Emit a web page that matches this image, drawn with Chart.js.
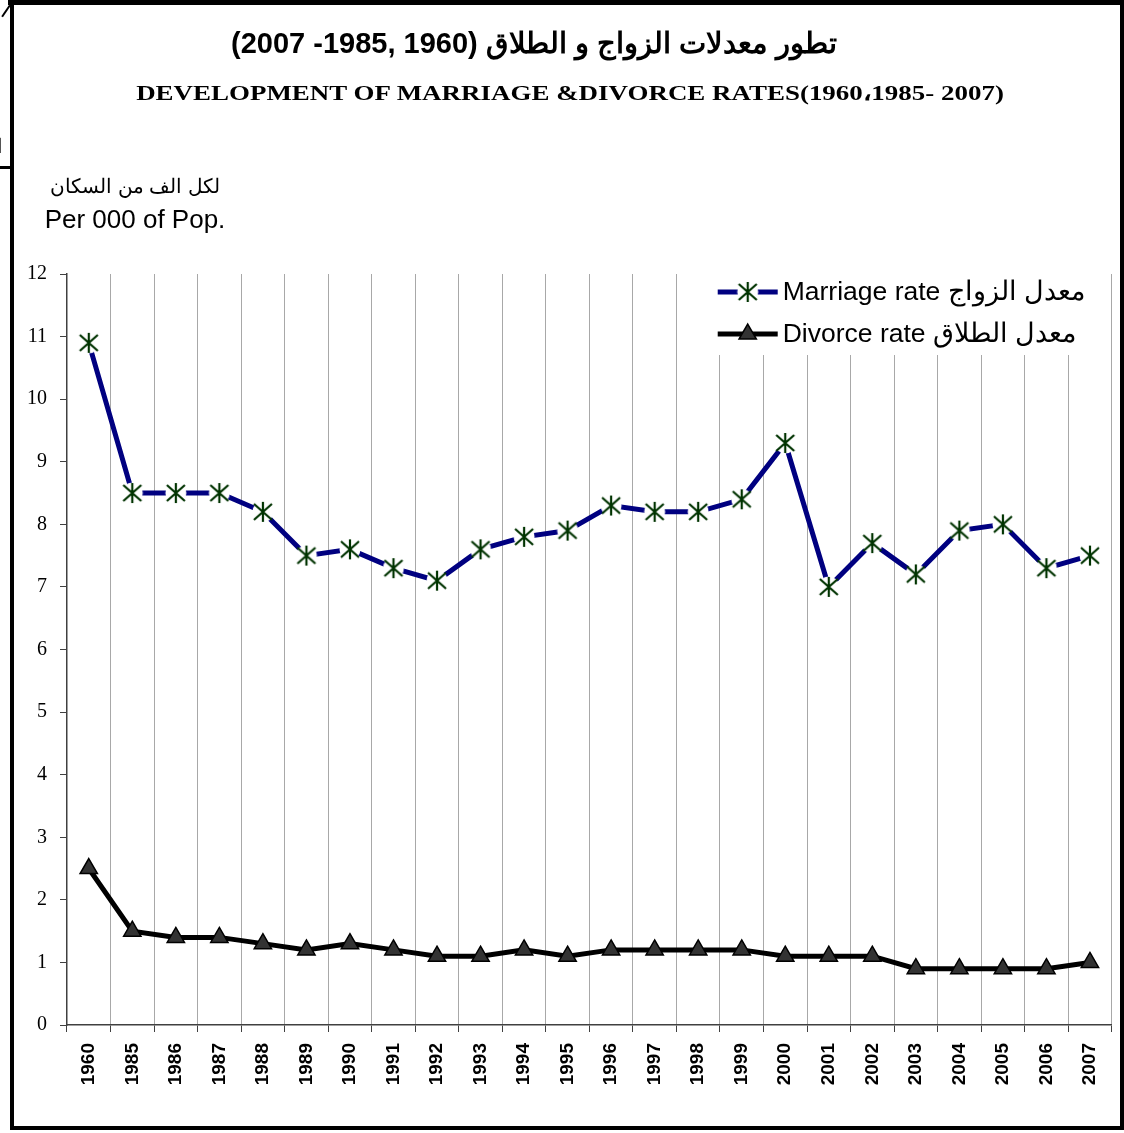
<!DOCTYPE html>
<html>
<head>
<meta charset="utf-8">
<script src="https://cdn.jsdelivr.net/npm/chart.js@4.4.1/dist/chart.umd.min.js"></script>
<style>
html,body{margin:0;padding:0;background:#fff;width:1124px;height:1133px;overflow:hidden;}
#chart{position:absolute;left:0;top:0;}
.bar{position:absolute;background:#000;}
.txt{position:absolute;white-space:nowrap;color:#000;transform:translateX(-50%);line-height:1;}
</style>
</head>
<body>
<canvas id="chart" width="1124" height="1133"></canvas>

<div class="bar" style="left:8px;top:0;width:1116px;height:5px;"></div>
<div class="bar" style="left:10px;top:0;width:4px;height:1130px;"></div>
<div class="bar" style="left:1120px;top:0;width:4px;height:1130px;"></div>
<div class="bar" style="left:10px;top:1126px;width:1114px;height:4px;"></div>
<div class="bar" style="left:0;top:166px;width:10px;height:3px;"></div>
<div class="bar" style="left:-1px;top:10px;width:14px;height:2px;transform:rotate(-56deg);transform-origin:50% 50%;"></div>
<div style="position:absolute;left:-3px;top:134px;font:20px 'Liberation Sans';direction:rtl;">ا</div>

<div class="txt" id="t1" style="left:534px;top:26px;font:bold 29px 'Liberation Sans';direction:rtl;">تطور معدلات الزواج و الطلاق (1960 ,1985- 2007)</div>
<div class="txt" id="t2" style="left:570px;top:80px;font:bold 22px 'Liberation Serif';transform:translateX(-50%) scaleX(1.225);">DEVELOPMENT OF MARRIAGE &amp;DIVORCE RATES(1960،1985- 2007)</div>
<div class="txt" id="u1" style="left:135px;top:174px;font:20px 'Liberation Sans';direction:rtl;">لكل الف من السكان</div>
<div class="txt" id="u2" style="left:135px;top:204px;font:26px 'Liberation Sans';">Per 000 of Pop.</div>

<script>
// ---- data ----
const years = ["1960","1985","1986","1987","1988","1989","1990","1991","1992","1993","1994","1995","1996","1997","1998","1999","2000","2001","2002","2003","2004","2005","2006","2007"];
const marriageRate = [10.9,8.5,8.5,8.5,8.2,7.5,7.6,7.3,7.1,7.6,7.8,7.9,8.3,8.2,8.2,8.4,9.3,7.0,7.7,7.2,7.9,8.0,7.3,7.5];
const divorceRate = [2.5,1.5,1.4,1.4,1.3,1.2,1.3,1.2,1.1,1.1,1.2,1.1,1.2,1.2,1.2,1.2,1.1,1.1,1.1,0.9,0.9,0.9,0.9,1.0];
const seriesLabels = ["Marriage rate معدل الزواج", "Divorce rate معدل الطلاق"];
const yTicks = [0,1,2,3,4,5,6,7,8,9,10,11,12];

// star marker (asterisk with white halo)
function makeStar(){
  const c = document.createElement('canvas');
  c.width = 24; c.height = 24;
  const g = c.getContext('2d');
  g.fillStyle = '#fff';
  g.beginPath(); g.arc(12,12,10.5,0,Math.PI*2); g.fill();
  g.strokeStyle = '#003300';
  g.lineWidth = 2.2;
  g.lineCap = 'butt';
  g.beginPath();
  g.moveTo(12,2); g.lineTo(12,22);
  g.moveTo(3,4); g.lineTo(21,20);
  g.moveTo(21,4); g.lineTo(3,20);
  g.stroke();
  return c;
}
const starImg = makeStar();

const boxLegend = {
  id: 'boxLegend',
  beforeDatasetsDraw(chart){
    const ctx = chart.ctx, a = chart.chartArea;
    ctx.save();
    ctx.fillStyle = '#fff';
    ctx.fillRect(a.right - 402, a.top - 1, 392, 82);
    const rows = [a.top + 18, a.top + 60];
    chart.data.datasets.forEach((ds, i) => {
      const y = rows[i];
      const x0 = a.right - 394;
      ctx.strokeStyle = ds.borderColor;
      ctx.lineWidth = ds.borderWidth;
      ctx.beginPath(); ctx.moveTo(x0, y); ctx.lineTo(x0 + 60, y); ctx.stroke();
      ctx.fillStyle = ds.pointBackgroundColor;
      ctx.strokeStyle = ds.pointBorderColor;
      ctx.lineWidth = ds.pointBorderWidth;
      Chart.helpers.drawPoint(ctx, {pointStyle: ds.pointStyle, radius: ds.pointRadius, borderWidth: ds.pointBorderWidth, rotation: 0}, x0 + 30, y);
      ctx.fillStyle = '#000';
      ctx.font = '26.5px "Liberation Sans"';
      ctx.textAlign = 'left';
      ctx.textBaseline = 'middle';
      ctx.direction = 'ltr';
      ctx.fillText(ds.label, x0 + 65, y + 1);
    });
    ctx.restore();
  }
};

new Chart(document.getElementById('chart'), {
  type: 'line',
  data: {
    labels: years,
    datasets: [
      {
        label: seriesLabels[0],
        data: marriageRate,
        borderColor: '#000080',
        borderWidth: 5,
        pointStyle: starImg,
        pointRadius: 10,
        pointBackgroundColor: '#003300',
        pointBorderColor: '#003300',
        pointBorderWidth: 2,
        tension: 0,
        fill: false
      },
      {
        label: seriesLabels[1],
        data: divorceRate,
        borderColor: '#000000',
        borderWidth: 5,
        pointStyle: 'triangle',
        pointRadius: 10,
        pointBackgroundColor: '#333333',
        pointBorderColor: '#000000',
        pointBorderWidth: 1.5,
        tension: 0,
        fill: false
      }
    ]
  },
  options: {
    responsive: false,
    animation: false,
    devicePixelRatio: 1,
    layout: {padding: {left: 10, top: 274, right: 8, bottom: 0}},
    plugins: {
      legend: {display: false},
      title: {display: false},
      tooltip: {enabled: false}
    },
    scales: {
      x: {
        type: 'category',
        offset: true,
        grid: {offset: true, color: '#a8a8a8', lineWidth: 1, drawTicks: true, tickLength: 7, tickColor: '#404040'},
        border: {color: '#404040', width: 1.5},
        ticks: {autoSkip: false, maxRotation: 90, minRotation: 90, padding: 11, color: '#000',
                font: {family: 'Liberation Sans', weight: 'bold', size: 19}},
        afterFit(s){ s.height = 108; }
      },
      y: {
        min: 0, max: 12,
        afterBuildTicks(s){ s.ticks = yTicks.map(v => ({value: v})); },
        grid: {drawOnChartArea: false, drawTicks: true, tickLength: 7, tickColor: '#404040'},
        border: {color: '#404040', width: 1.5},
        ticks: {padding: 13, color: '#000', font: {family: 'Liberation Serif', size: 20}},
        afterFit(s){ s.width = 57; }
      }
    }
  },
  plugins: [boxLegend]
});
</script>
</body>
</html>
